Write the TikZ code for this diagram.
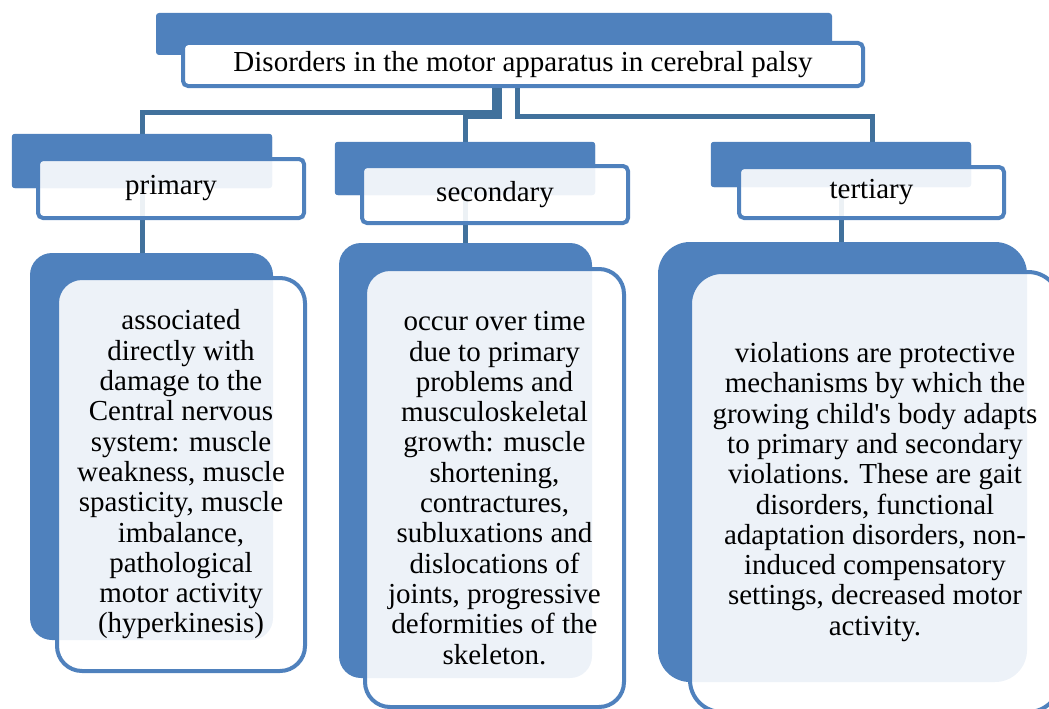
\documentclass[tikz,border=0pt]{standalone}
\usepackage{fontspec}
\setmainfont{Liberation Serif}
\usepackage{xcolor}
\definecolor{boxblue}{HTML}{4F81BD}
\definecolor{linkblue}{HTML}{41719C}
\usepackage{tikz}

\tikzset{
  backbox/.style={fill=boxblue,inner sep=0pt},
  frontbox/.style={draw=boxblue,line width=4pt,fill=white,fill opacity=0.9,
    text opacity=1,inner sep=0pt,align=center,
    font=\fontsize{29pt}{30.3pt}\selectfont},
  link/.style={draw=linkblue,line width=5pt}
}

\begin{document}
\begin{tikzpicture}[x=1pt,y=-1pt]
  \useasboundingbox (0,0) rectangle (1049,709);
  \clip (0,0) rectangle (1049,709);
  % back plates
  \node[backbox,rounded corners=3pt,minimum width=676pt,minimum height=42pt] (ttlB) at (494,34) {};
  \node[backbox,rounded corners=3pt,minimum width=260pt,minimum height=54pt] (priB) at (142,161) {};
  \node[backbox,rounded corners=3pt,minimum width=260pt,minimum height=53pt] (secB) at (465,168.5) {};
  \node[backbox,rounded corners=3pt,minimum width=260pt,minimum height=45pt] (terB) at (841,164.5) {};
  \node[backbox,rounded corners=22pt,minimum width=243pt,minimum height=387pt] (priBigB) at (151.5,446.5) {};
  \node[backbox,rounded corners=22pt,minimum width=253pt,minimum height=435pt] (secBigB) at (465.5,460.5) {};
  \node[backbox,rounded corners=32pt,minimum width=369pt,minimum height=440pt] (terBigB) at (842.5,462) {};
  % title
  \node[frontbox,fill opacity=1,rounded corners=5pt,minimum width=680pt,minimum height=43pt] (ttlF) at (523,64.5)
    {Disorders in the motor apparatus in cerebral palsy};
  % connectors
  \draw[link] ([xshift=-29pt]ttlF.south) -- ++(0,24) -| (priB.north);
  \draw[link] ([xshift=-24pt]ttlF.south) -- ++(0,28) -| (secB.north);
  \draw[link] ([xshift=-6pt]ttlF.south) -- ++(0,28) -| ([xshift=31pt]terB.north);
  \draw[link] (priB.south) -- (priB.south |- priBigB.north);
  \draw[link] (secB.south) -- (secB.south |- secBigB.north);
  \draw[link] (terB.south) -- (terB.south |- terBigB.north);
  % redraw plates over the connector ends
  \fill[boxblue,rounded corners=3pt] (priB.north west) rectangle (priB.south east);
  \fill[boxblue,rounded corners=3pt] (secB.north west) rectangle (secB.south east);
  \fill[boxblue,rounded corners=3pt] (terB.north west) rectangle (terB.south east);
  % front boxes
  \node[frontbox,rounded corners=5pt,minimum width=266pt,minimum height=59pt] (priF) at (171,188.5) {primary};
  \node[frontbox,rounded corners=5pt,minimum width=266pt,minimum height=57pt] (secF) at (495,194.5) {secondary};
  \node[frontbox,rounded corners=5pt,minimum width=265pt,minimum height=51pt] (terF) at (871.5,192.5) {tertiary};
  \node[frontbox,rounded corners=25pt,minimum width=248pt,minimum height=393pt] (priBigF) at (181,474.5)
    {associated\\directly with\\damage to the\\Central nervous\\system: muscle\\weakness, muscle\\spasticity, muscle\\imbalance,\\pathological\\motor activity\\(hyperkinesis)};
  \node[frontbox,rounded corners=25pt,minimum width=259pt,minimum height=438pt] (secBigF) at (494.5,488)
    {occur over time\\due to primary\\problems and\\musculoskeletal\\growth: muscle\\shortening,\\contractures,\\subluxations and\\dislocations of\\joints, progressive\\deformities of the\\skeleton.};
  \node[frontbox,rounded corners=32pt,minimum width=370pt,minimum height=440pt] (terBigF) at (875,492)
    {violations are protective\\mechanisms by which the\\growing child\textquotesingle s body adapts\\to primary and secondary\\violations. These are gait\\disorders, functional\\adaptation disorders, non-\\induced compensatory\\settings, decreased motor\\activity.};
\end{tikzpicture}
\end{document}
